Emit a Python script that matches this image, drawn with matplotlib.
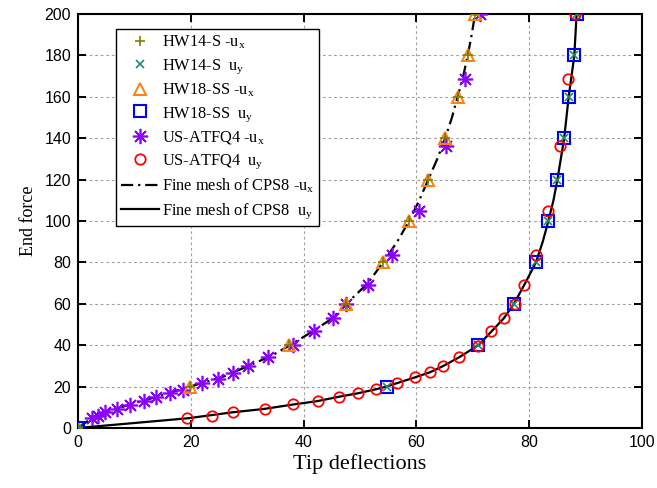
import matplotlib
matplotlib.use("Agg")
import matplotlib.pyplot as plt
from matplotlib.ticker import MultipleLocator

plt.rcParams["mathtext.fontset"] = "custom"
plt.rcParams["mathtext.rm"] = "Liberation Serif"
plt.rcParams["mathtext.it"] = "Liberation Serif:italic"

# HW14-S element results (load steps of 20)
hw14_force = [0, 20, 40, 60, 80, 100, 120, 140, 160, 180, 200]
hw14_ux = [0, 19.9, 37.5, 47.5, 54.0, 58.7, 62.1, 65.1, 67.3, 69.1, 70.4]
hw14_uy = [0, 54.7, 71.0, 77.3, 81.2, 83.4, 85.0, 86.2, 87.0, 88.0, 88.4]

# HW18-SS element results
hw18_force = [0, 20, 40, 60, 80, 100, 120, 140, 160, 180, 200]
hw18_ux = [0, 19.9, 37.5, 47.5, 54.0, 58.7, 62.1, 65.1, 67.3, 69.1, 70.4]
hw18_uy = [0, 54.7, 71.0, 77.3, 81.2, 83.4, 85.0, 86.2, 87.0, 88.0, 88.4]

# US-ATFQ4 element results (incremental load steps)
us_force_ux = [4.7, 6.0, 7.6, 9.2, 11.3, 13.2, 15.0, 16.8, 18.5, 21.5, 23.8, 26.8,
               30.0, 34.2, 40.0, 46.9, 53.0, 60.0, 68.9, 83.6, 105.0, 136.0, 168.6, 200.0]
us_ux = [2.4, 3.6, 4.8, 7.0, 9.2, 11.7, 13.9, 16.3, 18.7, 21.9, 24.9, 27.5,
         30.2, 33.7, 38.2, 41.8, 45.2, 47.6, 51.5, 55.6, 60.5, 65.2, 68.6, 71.2]
us_force_uy = [4.7, 5.9, 7.6, 9.2, 11.4, 13.0, 15.1, 16.8, 18.7, 21.6, 24.5, 26.9,
               30.0, 34.2, 39.8, 46.9, 53.0, 59.9, 69.1, 83.6, 105.0, 136.4, 168.6, 200.0]
us_uy = [19.3, 23.7, 27.5, 33.2, 38.2, 42.5, 46.3, 49.7, 52.8, 56.5, 59.8, 62.4,
         64.7, 67.6, 71.0, 73.3, 75.5, 77.4, 79.0, 81.2, 83.4, 85.5, 86.9, 88.1]

# Fine-mesh CPS8 reference solution
cps8_force_ux = [0, 2, 4.7, 7.6, 11.3, 15, 20, 25, 30, 35, 40, 47, 53, 60, 70, 80,
                 90, 100, 110, 120, 130, 140, 150, 160, 170, 180, 190, 200]
cps8_ux = [0, 1.0, 2.4, 4.8, 9.2, 13.9, 19.9, 26.0, 30.2, 34.4, 37.6, 41.8, 45.1,
           47.6, 51.4, 54.1, 56.6, 58.7, 60.5, 62.1, 63.7, 65.1, 66.3, 67.3, 68.3,
           69.1, 69.8, 70.4]
cps8_force_uy = [0, 2.4, 4.7, 7.6, 9.2, 11.4, 13.0, 15.1, 16.8, 18.7, 20, 21.6, 24.5,
                 26.9, 30, 34.2, 40, 46.9, 53, 60, 69, 80, 90, 100, 110, 120, 130,
                 140, 150, 160, 170, 180, 190, 200]
cps8_uy = [0, 10.0, 19.5, 27.5, 33.0, 38.3, 42.5, 46.3, 49.7, 52.8, 54.7, 56.5, 59.8,
           62.4, 64.8, 67.6, 71.0, 73.4, 75.5, 77.3, 79.1, 81.2, 82.4, 83.4, 84.3,
           85.0, 85.6, 86.2, 86.6, 87.0, 87.5, 88.0, 88.2, 88.4]

fig = plt.figure(figsize=(6.57, 4.88), dpi=100)
ax = fig.add_axes([0.1187, 0.1230, 0.8585, 0.8483])

sub = lambda s: r"$_\mathregular{" + s + "}$"

l_ux, = ax.plot(cps8_ux, cps8_force_ux, color="black", lw=1.6,
                dashes=(5.5, 2.2, 1, 2.2), zorder=2)
l_uy, = ax.plot(cps8_uy, cps8_force_uy, color="black", lw=1.6, zorder=2)

star_ux, = ax.plot(us_ux, us_force_ux, ls="none", marker=(8, 2, 0), ms=11,
                   mec="#8b00ff", mew=1.2, color="#8b00ff", zorder=3)
tri, = ax.plot(hw18_ux, hw18_force, ls="none", marker="^", ms=9, mfc="none",
               mec="#ff7f0e", mew=1.4, zorder=4)
sq, = ax.plot(hw18_uy, hw18_force, ls="none", marker="s", ms=8.5, mfc="none",
              mec="#0000ff", mew=1.5, zorder=4)
plus, = ax.plot(hw14_ux, hw14_force, ls="none", marker="+", ms=7, color="#7a8000",
                mew=1.2, zorder=5)
cross, = ax.plot(hw14_uy, hw14_force, ls="none", marker="x", ms=6, color="#1a8a78",
                 mew=1.2, zorder=5)
circ, = ax.plot(us_uy, us_force_uy, ls="none", marker="o", ms=7.5, mfc="none",
                mec="#ff0000", mew=1.3, zorder=6)

ax.set_xlim(0, 100)
ax.set_ylim(0, 200)
ax.xaxis.set_major_locator(MultipleLocator(20))
ax.yaxis.set_major_locator(MultipleLocator(20))
ax.grid(True, color="#a0a0a0", lw=0.8, ls=(0, (2.5, 2.5)))
ax.set_axisbelow(True)
ax.tick_params(direction="in", length=6, width=1.4, top=True, right=True,
               labelsize=11.5, pad=5)
for lab in ax.get_xticklabels() + ax.get_yticklabels():
    lab.set_fontfamily("Liberation Sans")
for sp in ax.spines.values():
    sp.set_linewidth(1.5)

ax.set_xlabel("Tip deflections", family="Liberation Serif", fontsize=16, labelpad=3)
ax.set_ylabel("End force", family="Liberation Serif", fontsize=13, labelpad=5)

handles = [plus, cross, tri, sq, star_ux, circ, l_ux, l_uy]
labels = ["HW14-S -u" + sub("x"), "HW14-S  u" + sub("y"),
          "HW18-SS -u" + sub("x"), "HW18-SS  u" + sub("y"),
          "US-ATFQ4 -u" + sub("x"), "US-ATFQ4  u" + sub("y"),
          "Fine mesh of CPS8 -u" + sub("x"), "Fine mesh of CPS8  u" + sub("y")]
leg = ax.legend(handles, labels, loc="upper left", bbox_to_anchor=(0.0674, 0.964),
                borderaxespad=0, numpoints=1, handlelength=2.3, handletextpad=0.2,
                labelspacing=0.36, borderpad=0.3, fancybox=False, framealpha=1,
                edgecolor="black", prop={"family": "Liberation Serif", "size": 11.8})
leg.get_frame().set_linewidth(1.0)

fig.savefig("out.png", dpi=100)
